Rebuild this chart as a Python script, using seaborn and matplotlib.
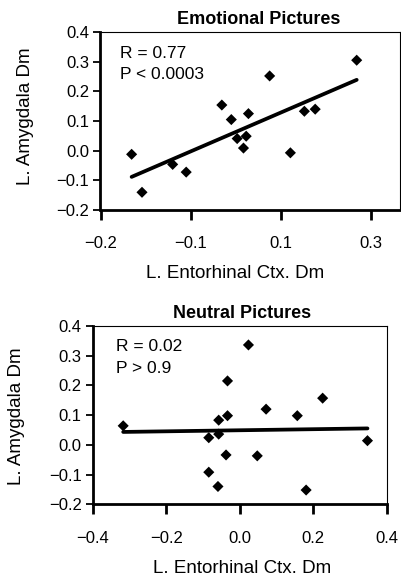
import matplotlib

matplotlib.use("Agg")

import matplotlib.pyplot as plt
import numpy as np
import pandas as pd
import seaborn as sns

# Emotional pictures (x axis is read on the drawn tick grid)
emo_x = [-0.231, -0.208, -0.140, -0.110, -0.031, -0.010, 0.003, 0.023, 0.017,
         0.028, 0.075, 0.121, 0.152, 0.176, 0.268]
emo_y = [-0.012, -0.140, -0.046, -0.072, 0.154, 0.105, 0.041, 0.049, 0.009,
         0.125, 0.252, -0.007, 0.133, 0.140, 0.305]

# Neutral pictures
neu_x = [-0.317, -0.084, -0.057, -0.057, -0.033, -0.033, -0.037, -0.084, -0.059,
         0.024, 0.048, 0.072, 0.157, 0.226, 0.181, 0.348]
neu_y = [0.064, 0.024, 0.083, 0.036, 0.098, 0.215, -0.034, -0.092, -0.140,
         0.336, -0.037, 0.120, 0.098, 0.157, -0.152, 0.014]

emo_xticks = [-0.3, -0.1, 0.1, 0.3]
emo_xticklabels = ["\u22120.2", "\u22120.1", "0.1", "0.3"]
neu_xticks = [-0.4, -0.2, 0.0, 0.2, 0.4]
yticks = [-0.2, -0.1, 0.0, 0.1, 0.2, 0.3, 0.4]

TICK_FS = 12
LABEL_FS = 13.5
STAT_FS = 12.5

sns.set_theme(style="ticks", rc={
    "text.color": "black", "axes.labelcolor": "black", "axes.edgecolor": "black",
    "xtick.color": "black", "ytick.color": "black",
})
plt.rcParams["font.family"] = ["Liberation Sans", "DejaVu Sans"]

fig = plt.figure(figsize=(4.02, 5.82), dpi=100)
ax1 = fig.add_axes([0.250, 0.639, 0.745, 0.306])
ax2 = fig.add_axes([0.2306, 0.1335, 0.731, 0.3065])

emo = pd.DataFrame({"x": emo_x, "y": emo_y})
neu = pd.DataFrame({"x": neu_x, "y": neu_y})


def fmt(v):
    return f"{v:.1f}".replace("-", "\u2212")


def draw(ax, df, title, r_txt, p_txt, title_x, ylab_xy, xlab_x, stat_x, stat_y):
    sns.regplot(data=df, x="x", y="y", ax=ax, ci=None, marker="D",
                scatter_kws={"s": 32, "color": "black", "edgecolors": "none", "alpha": 1},
                line_kws={"color": "black", "lw": 2.7})
    ax.set_title(title, fontsize=13, fontweight="bold", x=title_x, pad=6)
    ax.set_xlabel("L. Entorhinal Ctx. Dm", fontsize=LABEL_FS)
    ax.set_ylabel("L. Amygdala Dm", fontsize=LABEL_FS)
    ax.xaxis.set_label_coords(xlab_x, -0.31)
    ax.yaxis.set_label_coords(*ylab_xy)
    ax.set_ylim(-0.2, 0.4)
    ax.set_yticks(yticks)
    ax.set_yticklabels([fmt(v) for v in yticks])
    ax.tick_params(axis="y", labelsize=TICK_FS, length=5, width=1.3, pad=3)
    ax.tick_params(axis="x", labelsize=TICK_FS, length=7, width=2, pad=12)
    for side in ["left", "bottom"]:
        ax.spines[side].set_linewidth(2)
    for side in ["top", "right"]:
        ax.spines[side].set_linewidth(0.8)
    ax.text(stat_x, stat_y[0], r_txt, transform=ax.transAxes, fontsize=STAT_FS,
            va="baseline", ha="left")
    ax.text(stat_x, stat_y[1], p_txt, transform=ax.transAxes, fontsize=STAT_FS,
            va="baseline", ha="left")


draw(ax1, emo, "Emotional Pictures", "R = 0.77", "P < 0.0003", 0.529,
     (-0.222, 0.528), 0.449, 0.065, (0.852, 0.737))
ax1.set_xlim(-0.3, 0.364)
ax1.set_xticks(emo_xticks)
ax1.set_xticklabels(emo_xticklabels)

draw(ax2, neu, "Neutral Pictures", "R = 0.02", "P > 0.9", 0.508,
     (-0.230, 0.495), 0.508, 0.079, (0.858, 0.735))
ax2.set_xlim(-0.4, 0.4)
ax2.set_xticks(neu_xticks)
ax2.set_xticklabels([fmt(v) for v in neu_xticks])

fig.savefig("out.png", dpi=100)
plt.close(fig)
